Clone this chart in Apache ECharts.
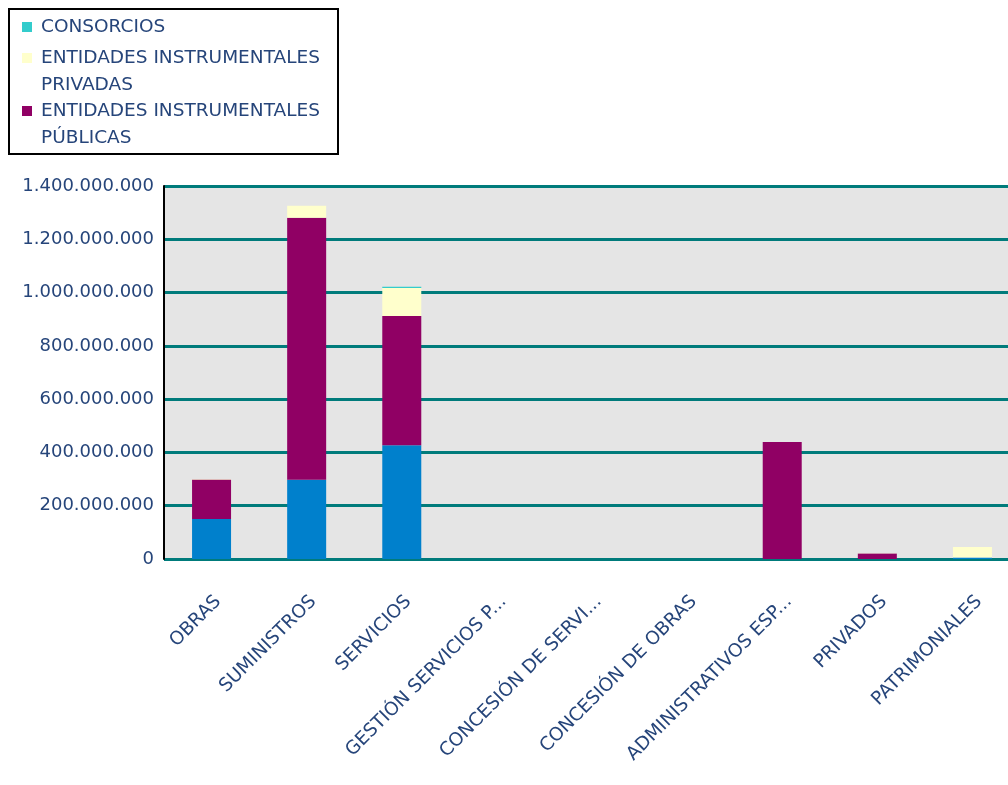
<!DOCTYPE html>
<html>
<head>
<meta charset="utf-8">
<script src="https://cdn.jsdelivr.net/npm/echarts@6/dist/echarts.min.js"></script>
<style>
    html, body { margin: 0; padding: 0; background: #fff; }
    #chart { width: 1008px; height: 785px; }
</style>
</head>
<body>
<div id="chart"></div>
<script>
// categories (labels as shown, already cut)
const categories = ['OBRAS', 'SUMINISTROS', 'SERVICIOS', 'GESTIÓN SERVICIOS P...', 'CONCESIÓN DE SERVI...',
    'CONCESIÓN DE OBRAS', 'ADMINISTRATIVOS ESP...', 'PRIVADOS', 'PATRIMONIALES'];

// stacked from bottom to top
const ayuntamientos = [150000000, 297000000, 427000000, 0, 0, 0, 0, 0, 6000000];
const publicas = [148000000, 984000000, 485000000, 0, 0, 0, 439000000, 21000000, 0];
const privadas = [2000000, 45000000, 105000000, 0, 0, 0, 0, 1000000, 39000000];
const consorcios = [0, 0, 5000000, 0, 0, 0, 0, 0, 0];

const yTicks = [0, 200000000, 400000000, 600000000, 800000000, 1000000000, 1200000000, 1400000000];

const textColor = '#26457a';
const font = 'DejaVu Sans, Verdana, sans-serif';

// legend icons: square on the first text line, blank lines only set the box
const iconOneLine = 'path://M0,0h14v0h-14zM0,13.5h10v10h-10zM0,37h14v0h-14z';
const iconTwoLines = 'path://M0,0h10v10h-10zM14,0v0zM0,37h14v0h-14z';

function thousands(v) {
    return String(v).replace(/\B(?=(\d{3})+(?!\d))/g, '.');
}

function bar(name, data, color) {
    return {
        name: name,
        type: 'bar',
        stack: 'total',
        barWidth: 39,
        itemStyle: { color: color },
        data: data
    };
}

var chart = echarts.init(document.getElementById('chart'));

chart.setOption({
    animation: false,
    backgroundColor: '#fff',
    graphic: [{
        type: 'rect',
        z: 0,
        silent: true,
        shape: { x: 9, y: 9, width: 329, height: 145 },
        style: { fill: '#fff', stroke: '#000', lineWidth: 2 }
    }],
    legend: {
        orient: 'vertical',
        left: 22,
        top: 8.5,
        padding: 0,
        itemGap: -1,
        itemWidth: 14,
        itemHeight: 37,
        z: 10,
        selectedMode: false,
        textStyle: { color: textColor, fontFamily: font, fontSize: 18.5, lineHeight: 27 },
        formatter: function (name) {
            return name.replace('ENTIDADES INSTRUMENTALES ', 'ENTIDADES INSTRUMENTALES\n');
        },
        data: [
            { name: 'CONSORCIOS', icon: iconOneLine },
            { name: 'ENTIDADES INSTRUMENTALES PRIVADAS', icon: iconTwoLines },
            { name: 'ENTIDADES INSTRUMENTALES PÚBLICAS', icon: iconTwoLines }
        ]
    },
    grid: {
        left: 164,
        top: 186,
        width: 856,
        bottom: 226,
        outerBoundsMode: 'none',
        show: true,
        backgroundColor: '#e5e5e5',
        borderWidth: 0
    },
    xAxis: {
        type: 'category',
        data: categories,
        axisLine: { show: false },
        axisTick: { show: false },
        axisLabel: {
            interval: 0,
            rotate: 45,
            margin: 33,
            verticalAlign: 'top',
            color: textColor,
            fontFamily: font,
            fontSize: 18.5
        }
    },
    yAxis: {
        type: 'value',
        min: yTicks[0],
        max: yTicks[yTicks.length - 1],
        interval: yTicks[1] - yTicks[0],
        axisLine: { show: true, lineStyle: { color: '#000', width: 2 } },
        axisTick: { show: false },
        splitLine: { lineStyle: { color: '#007b7b', width: 3 } },
        axisLabel: {
            margin: 10,
            color: textColor,
            fontFamily: font,
            fontSize: 18,
            formatter: thousands
        }
    },
    series: [
        bar('AYUNTAMIENTOS', ayuntamientos, '#0080cc'),
        bar('ENTIDADES INSTRUMENTALES PÚBLICAS', publicas, '#900064'),
        bar('ENTIDADES INSTRUMENTALES PRIVADAS', privadas, '#ffffcc'),
        bar('CONSORCIOS', consorcios, '#33cccc')
    ]
});
</script>
</body>
</html>
